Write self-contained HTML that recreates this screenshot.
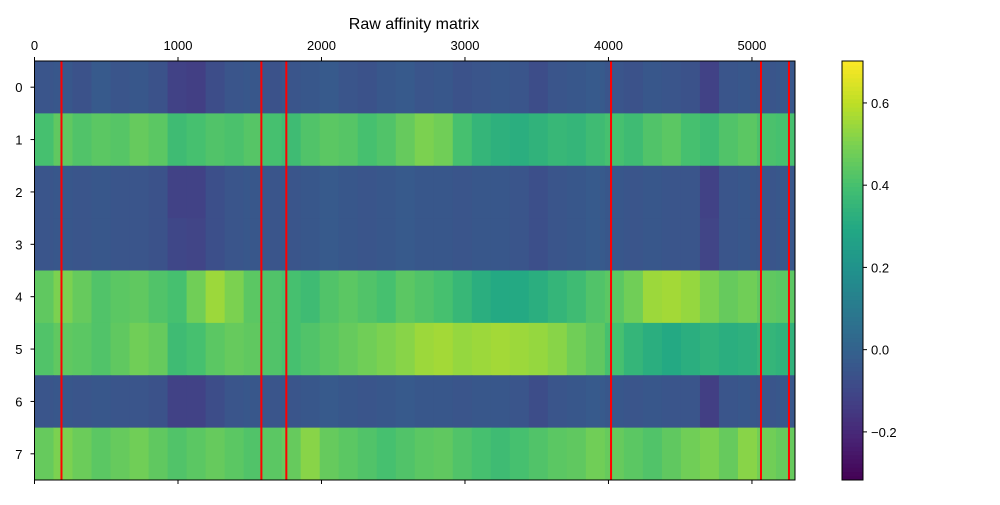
<!DOCTYPE html>
<html><head><meta charset="utf-8">
<style>
body{margin:0;background:#fff;}
svg text{font-family:"Liberation Sans","DejaVu Sans",sans-serif;font-size:13px;fill:#000;}
</style></head>
<body>
<svg id="chart" width="1000" height="500" xmlns="http://www.w3.org/2000/svg">
<text x="414" y="29" text-anchor="middle" style="font-size:16px">Raw affinity matrix</text>
<g id="cells"></g>
<g id="vlines"></g>
<g id="axes"></g>
<g id="cbar"></g>
</svg>
<script>
// column bins span 0..5300 in 40 bins
const nCols = 5300;
const rowLabels = [0,1,2,3,4,5,6,7];
const row0 = [-0.05,-0.04,-0.06,-0.03,-0.05,-0.04,-0.06,-0.12,-0.13,-0.08,-0.05,-0.04,-0.06,-0.05,-0.04,-0.03,-0.05,-0.06,-0.04,-0.03,-0.05,-0.04,-0.06,-0.05,-0.04,-0.05,-0.08,-0.05,-0.04,-0.03,-0.05,-0.06,-0.04,-0.05,-0.06,-0.12,-0.05,-0.04,-0.05,-0.04];
const row1 = [0.40,0.45,0.42,0.44,0.43,0.46,0.44,0.38,0.40,0.42,0.41,0.43,0.40,0.38,0.42,0.44,0.43,0.40,0.42,0.46,0.50,0.48,0.40,0.35,0.33,0.32,0.34,0.36,0.35,0.38,0.40,0.38,0.42,0.44,0.40,0.38,0.42,0.44,0.41,0.40];
const row2 = [-0.05,-0.04,-0.05,-0.04,-0.05,-0.05,-0.06,-0.12,-0.12,-0.07,-0.05,-0.04,-0.05,-0.05,-0.04,-0.03,-0.04,-0.05,-0.04,-0.03,-0.04,-0.04,-0.05,-0.04,-0.04,-0.05,-0.07,-0.05,-0.04,-0.03,-0.04,-0.05,-0.04,-0.05,-0.05,-0.12,-0.05,-0.04,-0.05,-0.04];
const row3 = [-0.05,-0.04,-0.05,-0.04,-0.05,-0.05,-0.06,-0.10,-0.11,-0.07,-0.05,-0.04,-0.05,-0.05,-0.04,-0.03,-0.04,-0.05,-0.04,-0.03,-0.04,-0.04,-0.05,-0.04,-0.04,-0.05,-0.07,-0.05,-0.04,-0.03,-0.04,-0.05,-0.04,-0.05,-0.05,-0.11,-0.05,-0.04,-0.05,-0.04];
const row4 = [0.45,0.50,0.46,0.42,0.44,0.45,0.42,0.40,0.48,0.55,0.50,0.44,0.42,0.40,0.38,0.42,0.44,0.42,0.40,0.44,0.42,0.40,0.36,0.32,0.30,0.30,0.32,0.35,0.38,0.42,0.44,0.48,0.55,0.56,0.54,0.50,0.46,0.48,0.45,0.44];
const row5 = [0.42,0.45,0.44,0.42,0.45,0.48,0.46,0.38,0.40,0.44,0.46,0.45,0.42,0.40,0.42,0.44,0.46,0.48,0.50,0.52,0.55,0.56,0.54,0.55,0.56,0.55,0.54,0.52,0.48,0.45,0.40,0.35,0.32,0.30,0.32,0.34,0.32,0.33,0.35,0.34];
const row6 = [-0.05,-0.04,-0.05,-0.04,-0.05,-0.05,-0.06,-0.12,-0.12,-0.08,-0.05,-0.04,-0.05,-0.05,-0.04,-0.03,-0.04,-0.05,-0.04,-0.03,-0.04,-0.04,-0.05,-0.04,-0.04,-0.05,-0.08,-0.05,-0.04,-0.03,-0.04,-0.05,-0.04,-0.05,-0.05,-0.13,-0.05,-0.04,-0.05,-0.04];
const row7 = [0.46,0.50,0.47,0.44,0.46,0.48,0.45,0.42,0.44,0.46,0.44,0.42,0.44,0.46,0.52,0.46,0.44,0.42,0.40,0.42,0.44,0.45,0.42,0.40,0.38,0.40,0.42,0.44,0.45,0.48,0.46,0.44,0.42,0.45,0.48,0.50,0.46,0.52,0.48,0.46];
const rows = [row0,row1,row2,row3,row4,row5,row6,row7];
const boundaries = [188,1581,1755,4018,5063,5258];
const xTicks = [0,1000,2000,3000,4000,5000];
const cbTicks = [-0.2,0,0.2,0.4,0.6];
const vmin = -0.317, vmax = 0.702;

const L=34.5,R=795,T=61,B=480;
const xs = v => L + v/nCols*(R-L);
const rowH = (B-T)/rowLabels.length;
const ys = r => T + r*rowH;
const stops=["#440154","#482475","#414487","#355f8d","#2a788e","#21918c","#22a884","#44bf70","#7ad151","#bddf26","#fde725"];
function hex(h){return [1,3,5].map(i=>parseInt(h.substr(i,2),16));}
function viridis(v){
  let t=Math.max(0,Math.min(1,(v-vmin)/(vmax-vmin)))*10;
  let i=Math.min(9,Math.floor(t)),f=t-i;
  const a=hex(stops[i]),b=hex(stops[i+1]);
  return "rgb("+a.map((c,k)=>Math.round(c+(b[k]-c)*f)).join(",")+")";
}
const NS="http://www.w3.org/2000/svg";
function mk(tag,attrs,parent){const e=document.createElementNS(NS,tag);for(const k in attrs)e.setAttribute(k,attrs[k]);parent.appendChild(e);return e;}
const cells=document.getElementById('cells');
rows.forEach((vals,r)=>{
  const bw=nCols/vals.length;
  vals.forEach((v,c)=>{
    const x0=xs(c*bw),x1=xs((c+1)*bw);
    const el=mk('rect',{x:x0,y:ys(r),width:x1-x0+0.5,height:rowH+0.5,fill:viridis(v)},cells);
    
    
  });
});
const vl=document.getElementById('vlines');
boundaries.forEach(b=>{
  const el=mk('line',{x1:xs(b),x2:xs(b),y1:T,y2:B,stroke:"#ff0000","stroke-width":2},vl);
  
  
});
const ax=document.getElementById('axes');
const fr=mk('rect',{x:L,y:T,width:R-L,height:B-T,fill:"none",stroke:"#000","stroke-width":1},ax);


xTicks.forEach(t=>{
  const x=xs(t);
  mk('line',{x1:x,x2:x,y1:T,y2:T-4,stroke:"#000"},ax);
  mk('line',{x1:x,x2:x,y1:B,y2:B+4,stroke:"#000"},ax);
  const tx=mk('text',{x:x,y:T-11,"text-anchor":"middle"},ax);
  tx.textContent=t;
  
  
});
rowLabels.forEach(r=>{
  const y=ys(r)+rowH/2;
  mk('line',{x1:L,x2:L-4,y1:y,y2:y,stroke:"#000"},ax);
  const tx=mk('text',{x:L-12,y:y+5,"text-anchor":"end"},ax);
  tx.textContent=r;
  
  
});
// colorbar
const cb=document.getElementById('cbar');
const cL=842,cR=863;
const cy=v=>B-(v-vmin)/(vmax-vmin)*(B-T);
for(let i=0;i<100;i++){
  const v0=vmin+(vmax-vmin)*i/100,v1=vmin+(vmax-vmin)*(i+1)/100;
  mk('rect',{x:cL,y:cy(v1),width:cR-cL,height:cy(v0)-cy(v1)+0.5,fill:viridis((v0+v1)/2)},cb);
}
mk('rect',{x:cL,y:T,width:cR-cL,height:B-T,fill:"none",stroke:"#000"},cb);
cbTicks.forEach(t=>{
  const y=cy(t);
  mk('line',{x1:cR,x2:cR+4,y1:y,y2:y,stroke:"#000"},cb);
  const tx=mk('text',{x:cR+8,y:y+5},cb);
  tx.textContent=(t<0?"\u2212":"")+Math.abs(t).toFixed(1);
  
  
});
</script>
</body></html>
